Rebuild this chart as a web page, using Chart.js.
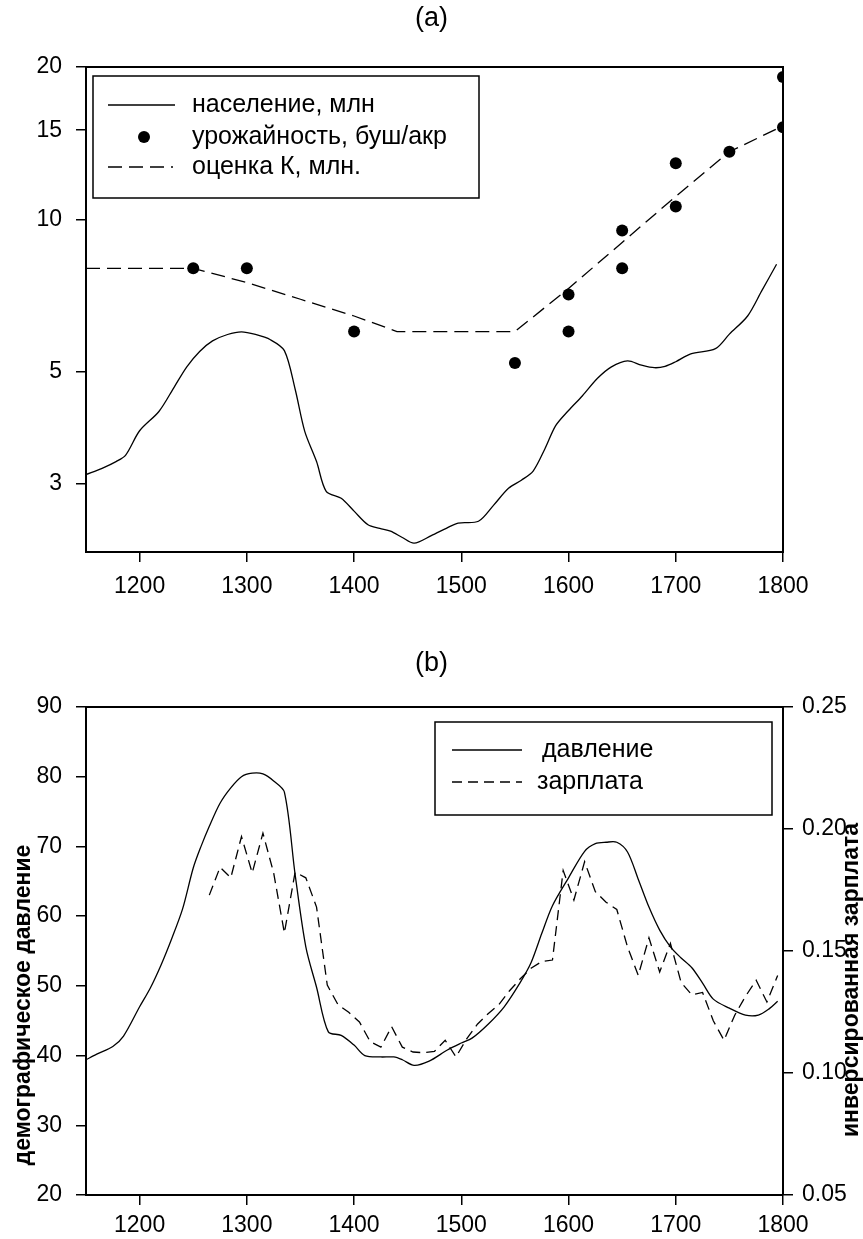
<!DOCTYPE html>
<html>
<head>
<meta charset="utf-8">
<script src="https://cdn.jsdelivr.net/npm/chart.js@4.4.1/dist/chart.umd.min.js"></script>
<style>
  html, body { margin: 0; padding: 0; background: #fff; }
  .panel { position: relative; width: 863px; }
  #wrapA { height: 620px; }
  #wrapB { height: 619px; }
</style>
</head>
<body>
<div class="panel" id="wrapA"><canvas id="chartA"></canvas></div>
<div class="panel" id="wrapB"><canvas id="chartB"></canvas></div>
<script>
// --- (a) население, урожайность, оценка K ---
const popYears = [1150, 1165, 1178, 1187, 1200, 1218, 1232, 1244, 1256, 1268, 1282, 1295, 1308, 1322, 1335, 1345,
    1354, 1365, 1374, 1388, 1400, 1413, 1424, 1434, 1445, 1456, 1472, 1486, 1497, 1516, 1530, 1544, 1556, 1567,
    1578, 1588, 1600, 1613, 1627, 1640, 1655, 1668, 1680, 1690, 1700, 1714, 1737, 1750, 1767, 1780, 1794];
const popValues = [3.13, 3.22, 3.32, 3.42, 3.82, 4.17, 4.65, 5.11, 5.48, 5.75, 5.92, 5.99, 5.92, 5.78, 5.50, 4.62,
    3.81, 3.32, 2.90, 2.81, 2.65, 2.49, 2.45, 2.42, 2.35, 2.29, 2.37, 2.45, 2.51, 2.53, 2.72, 2.94, 3.05, 3.18,
    3.52, 3.91, 4.19, 4.48, 4.85, 5.11, 5.25, 5.15, 5.09, 5.12, 5.23, 5.42, 5.55, 5.93, 6.44, 7.21, 8.15];

const kYears = [1150, 1250, 1300, 1350, 1400, 1440, 1550, 1600, 1650, 1700, 1750, 1800];
const kValues = [8.0, 8.0, 7.5, 6.95, 6.44, 6.0, 6.0, 7.3, 9.0, 11.1, 13.6, 15.3];

const yieldYears = [1250, 1300, 1400, 1550, 1600, 1600, 1650, 1650, 1700, 1700, 1750, 1800, 1800];
const yieldValues = [8.0, 8.0, 6.0, 5.2, 7.1, 6.0, 9.5, 8.0, 12.9, 10.6, 13.6, 19.1, 15.2];

const yearTicks = [1200, 1300, 1400, 1500, 1600, 1700, 1800];
const popTicks = [3, 5, 10, 15, 20];

// --- (b) давление и зарплата ---
const pressureYears = [1150, 1160, 1175, 1185, 1200, 1210, 1220, 1230, 1240, 1250, 1257, 1265, 1275, 1285, 1295,
    1305, 1315, 1325, 1335, 1345, 1355, 1365, 1376, 1388, 1400, 1410, 1425, 1437, 1445, 1456, 1470, 1487, 1500,
    1510, 1525, 1540, 1555, 1565, 1575, 1585, 1600, 1615, 1625, 1635, 1645, 1655, 1665, 1675, 1685, 1695, 1705,
    1715, 1725, 1735, 1750, 1765, 1777, 1787, 1795];
const pressureValues = [39.4, 40.2, 41.3, 42.8, 47.0, 49.7, 53.0, 56.8, 61.0, 66.9, 69.9, 72.9, 76.2, 78.4, 80.0,
    80.5, 80.4, 79.4, 77.8, 66.0, 55.6, 49.8, 43.4, 42.9, 41.5, 40.0, 39.8, 39.8, 39.4, 38.6, 39.2, 40.8, 41.8,
    42.5, 44.5, 47.0, 50.5, 53.3, 57.5, 61.5, 65.5, 69.3, 70.4, 70.6, 70.6, 69.2, 65.3, 61.3, 58.0, 55.6, 54.0,
    52.6, 50.4, 48.1, 46.8, 45.8, 45.8, 46.7, 47.8];

const wageYears = [1265, 1275, 1285, 1295, 1305, 1315, 1325, 1335, 1345, 1355, 1365, 1375, 1385, 1395, 1405,
    1415, 1425, 1435, 1445, 1455, 1465, 1475, 1485, 1495, 1505, 1515, 1525, 1535, 1545, 1555, 1565, 1575, 1585,
    1595, 1605, 1615, 1625, 1635, 1645, 1655, 1665, 1675, 1685, 1695, 1705, 1715, 1725, 1735, 1745, 1755, 1765,
    1775, 1785, 1795];
const wageValues = [0.1729, 0.1843, 0.180, 0.1969, 0.182, 0.1983, 0.182, 0.1574, 0.1823, 0.180, 0.168, 0.136,
    0.128, 0.1249, 0.1209, 0.1129, 0.1106, 0.119, 0.1106, 0.1086, 0.1083, 0.1089, 0.1134, 0.1066, 0.114, 0.120,
    0.1243, 0.128, 0.1337, 0.1386, 0.1429, 0.1457, 0.1463, 0.183, 0.1709, 0.1866, 0.1743, 0.170, 0.167, 0.1517,
    0.140, 0.1554, 0.1414, 0.1531, 0.1371, 0.132, 0.133, 0.1214, 0.1134, 0.1237, 0.1314, 0.138, 0.1291, 0.140];

const pressureTicks = [20, 30, 40, 50, 60, 70, 80, 90];
const wageTicks = [0.05, 0.10, 0.15, 0.20, 0.25];

function pts(xs, ys) { return xs.map((x, i) => ({ x: x, y: ys[i] })); }
function fixTicks(list) { return s => { s.ticks = list.map(v => ({ value: v })); }; }

Chart.defaults.font.family = '"Liberation Sans", Arial, sans-serif';
Chart.defaults.font.size = 23;
Chart.defaults.color = '#000';

// legend drawn inside the plot, as a framed box
const boxLegend = {
    id: 'boxLegend',
    afterDraw(chart, args, opts) {
        const ctx = chart.ctx, a = chart.chartArea;
        const bx = a.left + opts.box[0], by = a.top + opts.box[1];
        ctx.save();
        ctx.fillStyle = '#fff';
        ctx.fillRect(bx, by, opts.box[2], opts.box[3]);
        ctx.strokeStyle = '#000';
        ctx.lineWidth = 1.5;
        ctx.strokeRect(bx, by, opts.box[2], opts.box[3]);
        ctx.font = opts.font;
        ctx.textBaseline = 'middle';
        opts.items.forEach(it => {
            const ds = chart.data.datasets[it.ds];
            const y = a.top + it.y;
            ctx.fillStyle = '#000';
            if (it.dot) {
                ctx.beginPath();
                ctx.arc(a.left + (it.x0 + it.x1) / 2, y, ds.pointRadius, 0, Math.PI * 2);
                ctx.fill();
            } else {
                ctx.lineWidth = ds.borderWidth;
                ctx.setLineDash(ds.borderDash || []);
                ctx.beginPath();
                ctx.moveTo(a.left + it.x0, y);
                ctx.lineTo(a.left + it.x1, y);
                ctx.stroke();
                ctx.setLineDash([]);
            }
            ctx.fillText(ds.label, a.left + it.tx, y);
        });
        ctx.restore();
    }
};

// vertical axis titles, both read bottom-to-top
const sideTitles = {
    id: 'sideTitles',
    afterDraw(chart, args, opts) {
        if (!opts.items) return;
        const ctx = chart.ctx;
        opts.items.forEach(t => {
            ctx.save();
            ctx.translate(t.x, t.y);
            ctx.rotate(-Math.PI / 2);
            ctx.font = opts.font;
            ctx.textAlign = 'center';
            ctx.textBaseline = 'middle';
            ctx.fillStyle = '#000';
            ctx.fillText(t.text, 0, 0);
            ctx.restore();
        });
    }
};

const axisGrid = { drawOnChartArea: false, tickLength: 10, color: '#000', lineWidth: 1.5 };
const axisBorder = { color: '#000', width: 2 };
const frameAxis = (pos, size) => ({
    type: 'linear', position: pos,
    ticks: { display: false },
    grid: { display: false },
    border: axisBorder,
    afterFit: s => { if (pos === 'top') s.height = size; else s.width = size; }
});

// --- Chart (a) ---
new Chart(document.getElementById('chartA'), {
    type: 'line',
    data: {
        datasets: [{
            label: 'население, млн',
            data: pts(popYears, popValues),
            borderColor: '#000', borderWidth: 1.3, pointRadius: 0, tension: 0.3, fill: false
        }, {
            label: 'урожайность, буш/акр',
            data: pts(yieldYears, yieldValues),
            showLine: false, pointRadius: 6, pointStyle: 'circle',
            pointBackgroundColor: '#000', pointBorderColor: '#000', pointBorderWidth: 0, borderWidth: 0
        }, {
            label: 'оценка К, млн.',
            data: pts(kYears, kValues),
            borderColor: '#000', borderWidth: 1.3, borderDash: [14, 7], pointRadius: 0, tension: 0, fill: false
        }]
    },
    options: {
        responsive: true,
        maintainAspectRatio: false,
        animation: false,
        layout: { padding: 0 },
        plugins: {
            legend: { display: false },
            tooltip: { enabled: false },
            title: { display: true, text: '(a)', font: { size: 27, weight: 'normal' }, color: '#000',
                padding: { top: 2, bottom: 32.6 } },
            boxLegend: {
                box: [7, 9, 386, 122],
                font: '25px "Liberation Sans", Arial, sans-serif',
                items: [
                    { ds: 0, y: 38, x0: 22, x1: 89, tx: 106 },
                    { ds: 1, y: 70, x0: 22, x1: 94, tx: 106, dot: true },
                    { ds: 2, y: 100, x0: 22, x1: 87, tx: 106 }
                ]
            }
        },
        scales: {
            x: {
                type: 'linear', min: 1150, max: 1800,
                afterBuildTicks: fixTicks(yearTicks),
                ticks: { padding: 11, callback: v => String(v) },
                grid: axisGrid, border: axisBorder,
                afterFit: s => { s.height = 68; }
            },
            xTop: Object.assign(frameAxis('top', 0), { min: 1150, max: 1800 }),
            y: {
                type: 'logarithmic', min: 2.2, max: 20,
                afterBuildTicks: fixTicks(popTicks),
                ticks: { padding: 14, callback: v => String(v) },
                grid: axisGrid, border: axisBorder,
                afterFit: s => { s.width = 86; }
            },
            yRight: frameAxis('right', 80)
        }
    },
    plugins: [boxLegend]
});

// --- Chart (b) ---
new Chart(document.getElementById('chartB'), {
    type: 'line',
    data: {
        datasets: [{
            label: 'давление',
            data: pts(pressureYears, pressureValues),
            yAxisID: 'y',
            borderColor: '#000', borderWidth: 1.3, pointRadius: 0, tension: 0.3, fill: false
        }, {
            label: 'зарплата',
            data: pts(wageYears, wageValues),
            yAxisID: 'y2',
            borderColor: '#000', borderWidth: 1.3, borderDash: [10, 6], pointRadius: 0, tension: 0, fill: false
        }]
    },
    options: {
        responsive: true,
        maintainAspectRatio: false,
        animation: false,
        layout: { padding: 0 },
        plugins: {
            legend: { display: false },
            tooltip: { enabled: false },
            title: { display: true, text: '(b)', font: { size: 27, weight: 'normal' }, color: '#000',
                padding: { top: 27.8, bottom: 26.8 } },
            boxLegend: {
                box: [349, 15, 337, 93],
                font: '25px "Liberation Sans", Arial, sans-serif',
                items: [
                    { ds: 0, y: 43, x0: 366, x1: 436, tx: 456 },
                    { ds: 1, y: 75, x0: 366, x1: 436, tx: 451 }
                ]
            },
            sideTitles: {
                font: 'bold 23px "Liberation Sans", Arial, sans-serif',
                items: [
                    { text: 'демографическое давление', x: 24, y: 385 },
                    { text: 'инверсированная зарплата', x: 852, y: 360 }
                ]
            }
        },
        scales: {
            x: {
                type: 'linear', min: 1150, max: 1800,
                afterBuildTicks: fixTicks(yearTicks),
                ticks: { padding: 7, callback: v => String(v) },
                grid: axisGrid, border: axisBorder,
                afterFit: s => { s.height = 44; }
            },
            xTop: Object.assign(frameAxis('top', 0), { min: 1150, max: 1800 }),
            y: {
                type: 'linear', position: 'left', min: 20, max: 90,
                afterBuildTicks: fixTicks(pressureTicks),
                ticks: { padding: 14 },
                grid: axisGrid, border: axisBorder,
                afterFit: s => { s.width = 86; }
            },
            y2: {
                type: 'linear', position: 'right', min: 0.05, max: 0.25,
                afterBuildTicks: fixTicks(wageTicks),
                ticks: { padding: 9, callback: v => v.toFixed(2) },
                grid: axisGrid, border: axisBorder,
                afterFit: s => { s.width = 80; }
            }
        }
    },
    plugins: [boxLegend, sideTitles]
});
</script>
</body>
</html>
